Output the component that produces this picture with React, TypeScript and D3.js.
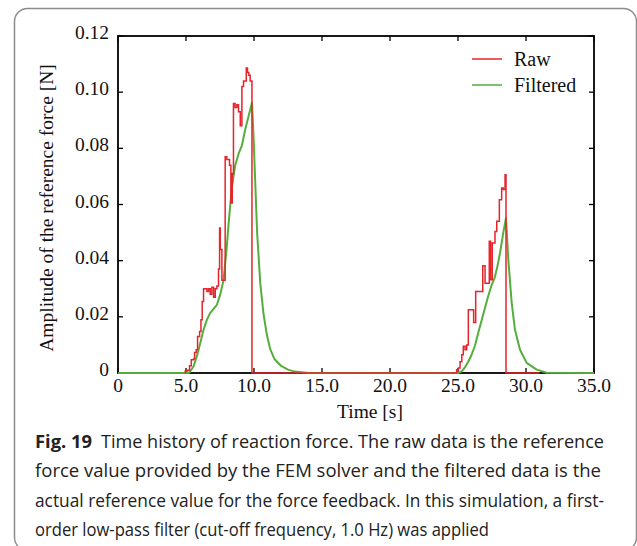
import React from "react";
import * as d3 from "d3";

// ---- data ----
const rawTime = [4.9, 4.94, 5.07, 5.26, 5.39, 5.55, 5.63, 5.75, 5.85, 6.0, 6.1, 6.19, 6.29, 6.54, 6.66, 6.78, 6.9, 7.03, 7.15, 7.27, 7.39, 7.47, 7.52, 7.64, 7.88, 8.0, 8.2, 8.3, 8.4, 8.49, 8.61, 8.74, 8.86, 8.99, 9.11, 9.23, 9.43, 9.52, 9.62, 9.72, 9.85,
  24.9, 25.03, 25.15, 25.28, 25.39, 25.52, 25.64, 25.76, 26.15, 26.3, 26.82, 26.99, 27.3, 27.4, 27.52, 27.72, 27.85, 28.04, 28.21, 28.33, 28.46, 28.53, 31.0];
const rawValue = [0, 0.0006, 0.001, 0.0026, 0.0047, 0.005, 0.0073, 0.0083, 0.013, 0.0148, 0.019, 0.0255, 0.03, 0.029, 0.03, 0.028, 0.0305, 0.027, 0.03, 0.031, 0.037, 0.0516, 0.044, 0.033, 0.077, 0.076, 0.074, 0.0605, 0.071, 0.096, 0.0945, 0.0955, 0.093, 0.088, 0.102, 0.104, 0.1086, 0.107, 0.106, 0.104, 0,
  0.0012, 0.0018, 0.004, 0.0065, 0.0095, 0.0083, 0.01, 0.0225, 0.018, 0.029, 0.0382, 0.032, 0.0469, 0.0332, 0.0463, 0.0504, 0.054, 0.0617, 0.0659, 0.0653, 0.0706, 0, 0];

const filteredTime = [0, 5.2, 5.31, 5.56, 5.8, 6.05, 6.29, 6.54, 6.78, 7.03, 7.27, 7.52, 7.76, 8.0, 8.13, 8.37, 8.62, 8.86, 9.11, 9.35, 9.6, 9.85,
  9.96, 10.09, 10.23, 10.46, 10.7, 10.95, 11.19, 11.5, 12.0, 12.5, 13.0, 14.0,
  25.0, 25.28, 25.52, 25.76, 26.0, 26.25, 26.5, 26.75, 27.0, 27.23, 27.45, 27.7, 27.9, 28.1, 28.33, 28.53,
  28.7, 28.95, 29.19, 29.56, 30.05, 30.79, 31.52, 35.0];
const filteredValue = [0, 0, 0.0006, 0.0024, 0.006, 0.0107, 0.0154, 0.019, 0.0214, 0.0228, 0.0243, 0.028, 0.033, 0.045, 0.053, 0.066, 0.074, 0.078, 0.081, 0.0866, 0.0914, 0.0962,
  0.085, 0.068, 0.05, 0.032, 0.021, 0.0135, 0.0085, 0.005, 0.0025, 0.0012, 0.0005, 0,
  0, 0.0006, 0.0021, 0.0041, 0.0065, 0.0098, 0.0145, 0.019, 0.0235, 0.0275, 0.031, 0.034, 0.038, 0.043, 0.05, 0.0552,
  0.0403, 0.0249, 0.0154, 0.0083, 0.0036, 0.0012, 0.0001, 0];

const xTicks = [0, 5, 10, 15, 20, 25, 30, 35];
const xTickLabels = ["0", "5.0", "10.0", "15.0", "20.0", "25.0", "30.0", "35.0"];
const yTicks = [0, 0.02, 0.04, 0.06, 0.08, 0.1, 0.12];
const yTickLabels = ["0", "0.02", "0.04", "0.06", "0.08", "0.10", "0.12"];
const seriesNames = ["Raw", "Filtered"];
const captionBold = "Fig. 19";
const captionLines = [
  "Time history of reaction force. The raw data is the reference",
  "force value provided by the FEM solver and the filtered data is the",
  "actual reference value for the force feedback. In this simulation, a first-",
  "order low-pass filter (cut-off frequency, 1.0 Hz) was applied",
];

const RED = "#e4252b";
const GREEN = "#55ae3a";
const SERIF = "'Liberation Serif', 'Times New Roman', serif";
const SANS = "'Open Sans', 'Noto Sans', sans-serif";

export default function App() {
  const L = 118, R = 594, T = 36, B = 373;
  const x = d3.scaleLinear().domain([0, 35]).range([L, R]);
  const y = d3.scaleLinear().domain([0, 0.12]).range([B, T]);

  const raw = rawTime.map((t, i) => [t, rawValue[i]] as [number, number]);
  const filt = filteredTime.map((t, i) => [t, filteredValue[i]] as [number, number]);
  const rawLine = d3.line<[number, number]>().x(d => x(d[0])).y(d => y(d[1])).curve(d3.curveStepAfter);
  const filtLine = d3.line<[number, number]>().x(d => x(d[0])).y(d => y(d[1])).curve(d3.curveLinear);

  const tickLen = 5;
  const fs = 19.5;
  const capX = 35;
  const capY0 = 448;
  const capDy = 29.3;
  const capLens = [503, 566, 569, 454];

  return (
    <svg width={637} height={546} style={{ position: "absolute", left: 0, top: 0, background: "#fff" }}>
      <rect x={14.5} y={8.5} width={622} height={542} rx={13} fill="none" stroke="#8c8c8c" strokeWidth={1.5} />
      {/* ticks */}
      {xTicks.map((t, i) => (
        <g key={"xt" + i}>
          <line x1={x(t)} x2={x(t)} y1={B} y2={B - tickLen} stroke="#000" strokeWidth={1.3} />
          <line x1={x(t)} x2={x(t)} y1={T} y2={T + tickLen} stroke="#000" strokeWidth={1.3} />
          <text x={x(t)} y={392} textAnchor="middle" fontFamily={SERIF} fontSize={fs} fill="#111">{xTickLabels[i]}</text>
        </g>
      ))}
      {yTicks.map((v, i) => (
        <g key={"yt" + i}>
          <line x1={L} x2={L + tickLen} y1={y(v)} y2={y(v)} stroke="#000" strokeWidth={1.3} />
          <line x1={R} x2={R - tickLen} y1={y(v)} y2={y(v)} stroke="#000" strokeWidth={1.3} />
          <text x={109} y={y(v) + 3} textAnchor="end" fontFamily={SERIF} fontSize={fs} fill="#111">{yTickLabels[i]}</text>
        </g>
      ))}
      {/* frame */}
      <rect x={L} y={T} width={R - L} height={B - T} fill="none" stroke="#000" strokeWidth={1.8} />
      {/* data */}
      <path d={filtLine(filt) || ""} fill="none" stroke={GREEN} strokeWidth={2} strokeLinejoin="round" />
      <path d={rawLine(raw) || ""} fill="none" stroke={RED} strokeWidth={1.5} />
      {/* legend */}
      <line x1={472} x2={502} y1={59} y2={59} stroke={RED} strokeWidth={1.5} />
      <text x={514} y={66} fontFamily={SERIF} fontSize={20} fill="#111">{seriesNames[0]}</text>
      <line x1={472} x2={502} y1={85} y2={85} stroke={GREEN} strokeWidth={1.5} />
      <text x={514} y={92} fontFamily={SERIF} fontSize={20} fill="#111">{seriesNames[1]}</text>
      {/* axis titles */}
      <text x={370} y={418} textAnchor="middle" fontFamily={SERIF} fontSize={fs} fill="#111">Time [s]</text>
      <text transform={`translate(53,208) rotate(-90)`} textAnchor="middle" fontFamily={SERIF} fontSize={fs} fill="#111">Amplitude of the reference force [N]</text>
      {/* caption */}
      <text x={capX} y={capY0} fontFamily={SANS} fontSize={18} fontWeight={700} fill="#222" textLength={57} lengthAdjust="spacingAndGlyphs">{captionBold}</text>
      {captionLines.map((s, i) => (
        <text key={"c" + i} x={i === 0 ? 101 : capX} y={capY0 + i * capDy} fontFamily={SANS} fontSize={18} fill="#222"
          textLength={capLens[i]} lengthAdjust="spacingAndGlyphs">{s}</text>
      ))}
    </svg>
  );
}
